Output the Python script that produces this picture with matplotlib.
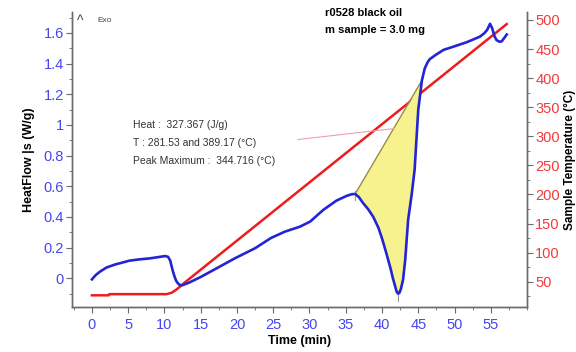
import numpy as np
import matplotlib
matplotlib.use("Agg")
import matplotlib.pyplot as plt
from matplotlib.ticker import MultipleLocator

plt.rcParams['font.family'] = ['Liberation Sans', 'DejaVu Sans']

# DSC run: time (min), heat flow (W/g), sample temperature (C)
time_hf = [0, 0.5, 1.1, 2, 3.2, 4, 5.2, 6.5, 8, 9, 10.1, 10.5, 10.8, 11, 11.2,
           11.4, 11.6, 11.8, 12.1, 12.5, 13.5, 14.9, 17, 19.7, 22.5, 24.7,
           26.6, 28.7, 30.1, 31.9, 33.7, 35.1, 35.8, 36.3, 36.8, 37.4, 38.1,
           38.8, 39.5, 40.0, 40.6, 41.2, 41.5, 41.8, 42.0, 42.2, 42.4, 42.6,
           42.9, 43.2, 43.6, 44.1, 44.5, 45.0, 45.5, 45.9, 46.3, 46.6, 47.5,
           48.5, 49.8, 51.7, 53.5, 54.1, 54.5, 54.9, 55.2, 55.5, 55.8, 56.2,
           56.5, 56.9, 57.2]
heat_flow = [-0.007, 0.02, 0.043, 0.07, 0.09, 0.10, 0.115, 0.123, 0.13, 0.137,
             0.145, 0.14, 0.115, 0.076, 0.04, 0.01, -0.015, -0.03, -0.044,
             -0.045, -0.026, 0.006, 0.06, 0.13, 0.196, 0.263, 0.304, 0.337,
             0.37, 0.446, 0.506, 0.537, 0.548, 0.55, 0.53, 0.49, 0.45, 0.40,
             0.33, 0.26, 0.163, 0.06, 0.0, -0.05, -0.085, -0.10, -0.095,
             -0.07, -0.01, 0.12, 0.38, 0.55, 0.71, 1.10, 1.29, 1.37, 1.41,
             1.43, 1.46, 1.49, 1.51, 1.54, 1.576, 1.598, 1.62, 1.66, 1.63,
             1.58, 1.553, 1.543, 1.545, 1.57, 1.59]

time_temp = [0, 2.3, 2.4, 10.3, 11.0, 11.6, 12.2, 12.8, 57.2]
sample_temp = [26.5, 26.5, 28.5, 28.5, 31, 36, 42, 48.5, 493]

# integration limits of the peak (min)
peak_t0, peak_t1 = 36.3, 45.5

annot = ["Heat :  327.367 (J/g)",
         "T : 281.53 and 389.17 (\u00b0C)",
         "Peak Maximum :  344.716 (\u00b0C)"]

blue = '#2424d4'
red = '#ee1c1c'
tick_blue = '#4646ee'
tick_red = '#f03c3c'
spine_c = '#6a6a6a'

fig = plt.figure(figsize=(5.76, 3.52), dpi=100)
ax = fig.add_axes([0.125, 0.128, 0.79, 0.838])
ax2 = ax.twinx()

t = np.array(time_hf)
hf = np.array(heat_flow)

# baseline and filled peak area
h0 = np.interp(peak_t0, t, hf)
h1 = np.interp(peak_t1, t, hf)
inside = (t > peak_t0) & (t < peak_t1)
tf = np.concatenate([[peak_t0], t[inside], [peak_t1]])
hf_f = np.concatenate([[h0], hf[inside], [h1]])
base = h0 + (tf - peak_t0) * (h1 - h0) / (peak_t1 - peak_t0)
ax.fill_between(tf, base, hf_f, color='#f6f38e', lw=0, zorder=1)
ax.plot([peak_t0, peak_t1], [h0, h1], color='#9a8a40', lw=1.0, zorder=2)

# small limit markers
imin = np.argmin(hf)
ax.plot([peak_t0, peak_t0], [h0 - 0.04, h0 + 0.02], color='#999999', lw=0.8, zorder=2)
ax.plot([t[imin], t[imin]], [hf[imin] - 0.05, hf[imin] + 0.02], color='#999999', lw=0.8, zorder=2)

ax.plot(t, hf, color=blue, lw=1.9, zorder=4, solid_joinstyle='round')

# leader line to the peak annotation
lead_t = 41.6
lead_h = h0 + (lead_t - peak_t0) * (h1 - h0) / (peak_t1 - peak_t0)
ax.plot([28.4, lead_t], [0.905, lead_h], color='#f0a0a8', lw=0.8, zorder=2)

ax2.plot(time_temp, sample_temp, color=red, lw=1.8, zorder=3, solid_joinstyle='round')
ax.set_zorder(ax2.get_zorder() + 1)
ax.patch.set_visible(False)

ax.set_xlim(-2.75, 60)
ax.set_ylim(-0.187, 1.737)
ax2.set_ylim(6.5, 513.8)

ax.xaxis.set_minor_locator(MultipleLocator(2.5))
ax.set_xticks(np.arange(0, 60, 5))
ax.yaxis.set_minor_locator(MultipleLocator(0.1))
ax.set_yticks(np.arange(0, 1.7, 0.2))
ax.set_yticklabels(['0', '0.2', '0.4', '0.6', '0.8', '1', '1.2', '1.4', '1.6'])
ax2.set_yticks(np.arange(50, 501, 50))
ax2.yaxis.set_minor_locator(MultipleLocator(25))

for a in (ax, ax2):
    a.spines['top'].set_visible(False)
    for s in ('left', 'right', 'bottom'):
        a.spines[s].set_color(spine_c)
        a.spines[s].set_linewidth(1.0)

ax.tick_params(axis='x', which='major', length=4, color=spine_c, labelsize=10.5,
               labelcolor=tick_blue, pad=4)
ax.tick_params(axis='x', which='minor', length=2.5, color=spine_c)
ax.tick_params(axis='y', which='major', length=4, color=spine_c, labelsize=10.5,
               labelcolor=tick_blue, pad=2)
ax.tick_params(axis='y', which='minor', length=2.5, color=spine_c)
ax2.tick_params(axis='y', which='major', length=4, color=spine_c, labelsize=10.5,
                labelcolor=tick_red, pad=2)
ax2.tick_params(axis='y', which='minor', length=2.5, color=spine_c)

ax.set_xlabel('Time (min)', fontsize=9, fontweight='bold', labelpad=2)
ax.set_ylabel('HeatFlow |s (W/g)', fontsize=9, fontweight='bold', labelpad=6)
ax2.set_ylabel('Sample Temperature (\u00b0C)', fontsize=8.5, fontweight='bold', labelpad=3)

fig.text(325 / 576, 1 - 13 / 352, 'r0528 black oil', fontsize=8, fontweight='bold',
         va='center', ha='left')
fig.text(325 / 576, 1 - 30 / 352, 'm sample = 3.0 mg', fontsize=8, fontweight='bold',
         va='center', ha='left')
fig.text(77 / 576, 1 - 21 / 352, '^', fontsize=10, color='#444444', va='center', ha='left')
fig.text(97 / 576, 1 - 21 / 352, 'Exo', fontsize=6, color='#444444', va='center', ha='left')

for i, line in enumerate(annot):
    fig.text(133 / 576, 1 - (125 + 18 * i) / 352, line, fontsize=7.5, color='#333333',
             va='center', ha='left')

fig.savefig('out.png', dpi=100)
